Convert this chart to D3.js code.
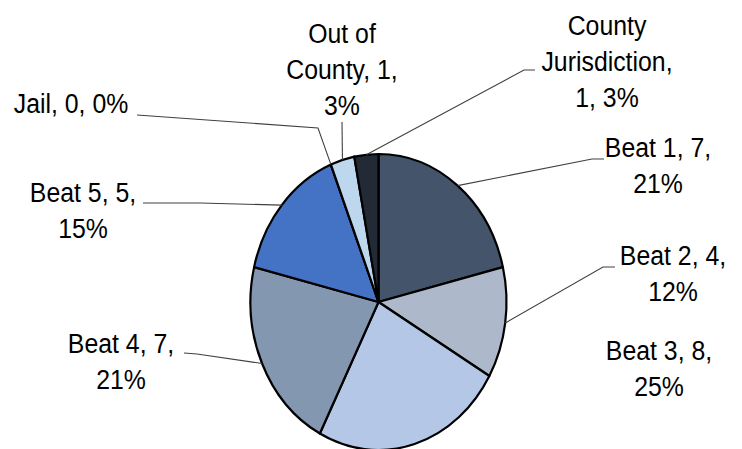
<!DOCTYPE html>
<html><head><meta charset="utf-8">
<script src="https://cdn.jsdelivr.net/npm/d3@7/dist/d3.min.js"></script>
<style>html,body{margin:0;padding:0;background:#fff;}svg{display:block;}</style>
</head><body>
<svg id="chart" width="742" height="449"></svg>
<script>
const categories = ["Beat 1","Beat 2","Beat 3","Beat 4","Beat 5","Jail","Out of County","County Jurisdiction"];
const values = [7,4,8,7,5,0,1,1];
const colors = ["#44546A","#ADB9CA","#B4C7E7","#8497B0","#4472C4","#A5A5A5","#BDD7EE","#222A35"];
// label layout: centre x, first baseline, words per line, leader elbow points (label side)
const labelX = [658, 673, 659, 121, 83, 71, 342, 607];
const labelY = [157, 265, 360, 353, 202, 113, 43, 35];
const lineBreaks = [[3,1],[3,1],[3,1],[3,1],[3,1],[3],[2,2,1],[1,1,2]];
const leaders = [[[604,159],[592,159]],[[615,267],[603,267]],null,[[184,353],[197,354]],[[143,203],[200,203]],[[137,115],[318,128]],[[342,122]],[[535,70],[524,70]]];

const W = 742, H = 449;
const cx = 378.5, cy = 302, rx = 128, ry = 148;
const svg = d3.select("#chart");

// percentages with largest remainder rounding (as the spreadsheet does)
const total = d3.sum(values);
const raw = values.map(v => v / total * 100);
const pct = raw.map(Math.floor);
let rem = 100 - d3.sum(pct);
raw.map((r, i) => [r - Math.floor(r), i]).sort((a, b) => b[0] - a[0]).slice(0, rem).forEach(([, i]) => pct[i]++);

const pie = d3.pie().sort(null).value(d => d)(values);
const arc = d3.arc().innerRadius(0).outerRadius(ry);

const g = svg.append("g").attr("transform", `translate(${cx},${cy}) scale(${rx/ry},1)`);
g.selectAll("path").data(pie).join("path")
  .attr("d", arc)
  .attr("fill", (d, i) => colors[i])
  .attr("stroke", "#000")
  .attr("stroke-width", 2.2)
  .attr("stroke-linejoin", "round")
  .attr("vector-effect", "non-scaling-stroke");

// leader lines
pie.forEach((d, i) => {
  if (!leaders[i]) return;
  const a = (d.startAngle + d.endAngle) / 2;
  const p = [cx + Math.sin(a) * rx, cy - Math.cos(a) * ry];
  const pts = leaders[i].concat([p]);
  svg.append("path")
    .attr("d", d3.line()(pts))
    .attr("fill", "none")
    .attr("stroke", "#404040")
    .attr("stroke-width", 1.1);
});

// labels
categories.forEach((c, i) => {
  const words = `${c}, ${values[i]}, ${pct[i]}%`.split(" ");
  let k = 0;
  const lines = lineBreaks[i].map(n => { const s = words.slice(k, k + n).join(" "); k += n; return s; });
  lines.forEach((ln, j) => {
    svg.append("text")
      .attr("transform", `translate(${labelX[i]},${labelY[i] + j * 36}) scale(0.92,1)`)
      .attr("text-anchor", "middle")
      .attr("font-family", "'Liberation Sans', Arial, sans-serif")
      .attr("font-size", 27)
      .attr("fill", "#000")
      .text(ln);
  });
});
</script>
</body></html>
